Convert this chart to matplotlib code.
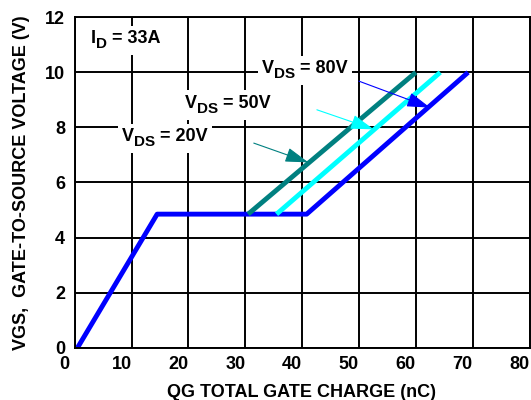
#!/usr/bin/env python3

import matplotlib

matplotlib.use("Agg")
import matplotlib.pyplot as plt
import matplotlib.transforms as mtransforms
from matplotlib.offsetbox import (AnnotationBbox, DrawingArea, HPacker,
                                  TextArea, VPacker)

# gate charge curves
QG_80V = [0.5, 14.5, 40.8, 69.2]
VGS_80V = [0.0, 4.85, 4.85, 10.0]
QG_50V = [35.5, 64.3]
VGS_50V = [4.85, 10.0]
QG_20V = [30.5, 60.0]
VGS_20V = [4.85, 10.0]

X_TICKS = [0, 10, 20, 30, 40, 50, 60, 70, 80]
Y_TICKS = [0, 2, 4, 6, 8, 10, 12]

# label pieces (main, subscript, rest), baseline position, arrow tail/tip, colour
LABELS = [
    (("V", "DS", " = 20V"), (8.3, 7.51), (31.5, 7.43), (41.1, 6.73), "#008080"),
    (("V", "DS", " = 50V"), (19.4, 8.71), (42.6, 8.64), (52.6, 7.93), "#00FFFF"),
    (("V", "DS", " = 80V"), (33.0, 9.98), (50.0, 9.68), (62.5, 8.72), "#0000FF"),
]
ID_LABEL = ("I", "D", " = 33A")
ID_POS = (2.8, 11.06)

plt.rcParams["font.family"] = ["Liberation Sans", "DejaVu Sans"]
plt.rcParams["font.weight"] = "bold"

FS = 13
SUB_FS = 11
SUB_DROP = 3.0  # points the subscript sits below the main text


def _sub_label(ax, pos, pieces):
    """Label with a big subscript, on a white patch that hides the grid."""
    main, sub, rest = pieces
    props = dict(fontsize=FS, fontweight="bold")
    head = VPacker(children=[TextArea(main, textprops=props),
                             DrawingArea(0, SUB_DROP)],
                   pad=0, sep=0, align="left")
    tail = VPacker(children=[TextArea(rest, textprops=props),
                             DrawingArea(0, SUB_DROP)],
                   pad=0, sep=0, align="left")
    sub_box = TextArea(sub, textprops=dict(fontsize=SUB_FS, fontweight="bold"))
    row = HPacker(children=[head, sub_box, tail], pad=0, sep=0, align="bottom")
    # box bottom = baseline - descent - drop
    ab = AnnotationBbox(row, pos, xycoords="data",
                        xybox=(0, -(0.21 * FS + SUB_DROP)),
                        boxcoords="offset points", box_alignment=(0, 0),
                        frameon=True, pad=0.3, zorder=3,
                        bboxprops=dict(facecolor="white", edgecolor="none"))
    ax.add_artist(ab)


def main():
    fig = plt.figure(figsize=(5.31, 4.0), dpi=100)
    ax = fig.add_axes([0.1407, 0.1308, 0.8565, 0.826])

    ax.set_xlim(0, 80)
    ax.set_ylim(0, 12)
    ax.set_xticks(X_TICKS)
    ax.set_yticks(Y_TICKS)
    ax.grid(True, color="black", linewidth=1.4, zorder=1)
    ax.set_axisbelow(True)
    for spine in ax.spines.values():
        spine.set_linewidth(1.4)
        spine.set_zorder(5)

    ax.tick_params(length=0, labelsize=FS)
    ax.tick_params(axis="x", pad=6)
    ax.tick_params(axis="y", pad=7)
    shift = mtransforms.ScaledTranslation(-0.1, 0, fig.dpi_scale_trans)
    for lab in ax.get_xticklabels():
        lab.set_transform(lab.get_transform() + shift)
        lab.set_fontweight("bold")
    for lab in ax.get_yticklabels():
        lab.set_fontweight("bold")

    ax.plot(QG_80V, VGS_80V, color="#0000FF", linewidth=3.5, zorder=4,
            solid_capstyle="butt")
    ax.plot(QG_50V, VGS_50V, color="#00FFFF", linewidth=3.5, zorder=4,
            solid_capstyle="butt")
    ax.plot(QG_20V, VGS_20V, color="#008080", linewidth=3.5, zorder=4,
            solid_capstyle="butt")

    _sub_label(ax, ID_POS, ID_LABEL)

    for pieces, pos, tail, tip, color in LABELS:
        _sub_label(ax, pos, pieces)
        ax.annotate("", xy=tip, xytext=tail, zorder=6,
                    arrowprops=dict(arrowstyle="-|>,head_length=0.8,head_width=0.25",
                                    color=color, lw=0.8, mutation_scale=18,
                                    shrinkA=0, shrinkB=0))

    ax.set_xlabel("QG TOTAL GATE CHARGE (nC)", fontsize=FS, fontweight="bold")
    ax.xaxis.set_label_coords(0.4987, -0.11)
    ax.xaxis.label.set_va("top")
    ax.set_ylabel("VGS,  GATE-TO-SOURCE VOLTAGE (V)", fontsize=FS,
                  fontweight="bold")
    ax.yaxis.set_label_coords(-0.098, 0.5)

    fig.savefig("out.png", dpi=100)
    plt.close(fig)


if __name__ == "__main__":
    main()
